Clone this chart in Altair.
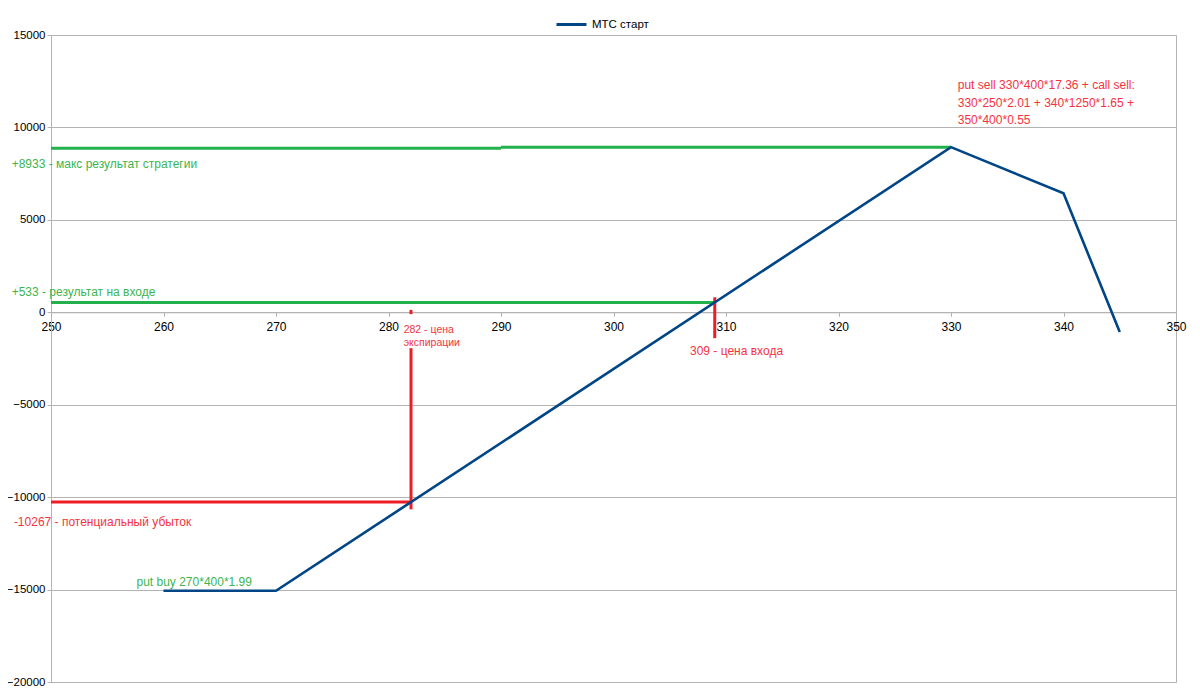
import altair as alt
import pandas as pd

# ---- data ----
series_name = "МТС старт"
strike = [260, 270, 330, 340, 345]
pnl = [-15067, -15067, 8933, 6433, -1067]

# helper lines: x1, x2, y1, y2, colour
rule_x1 = [250, 290, 250, 250, 282, 282, 309]
rule_x2 = [290, 330, 309, 282, 282, 282, 309]
rule_y1 = [8880, 8933, 533, -10267, -10660, 130, 810]
rule_y2 = [8880, 8933, 533, -10267, -1940, -100, -1400]
rule_col = ["#22b14c", "#22b14c", "#22b14c", "#ee1c25", "#ee1c25", "#ee1c25", "#ee1c25"]

# annotations
ann_text = [
    "+8933 - макс результат стратегии",
    "+533 - результат на входе",
    "-10267 - потенциальный убыток",
    "put buy 270*400*1.99",
    "put sell 330*400*17.36 + call sell:",
    "330*250*2.01 + 340*1250*1.65 +",
    "350*400*0.55",
    "309 - цена входа",
]
ann_x = [246.5, 246.5, 246.7, 257.6, 330.6, 330.6, 330.6, 306.8]
ann_y = [8025, 1099, -11347, -14595, 12299, 11326, 10406, -2094]
ann_col = ["#3cb54f", "#3cb54f", "#f5333f", "#3cb54f", "#f5333f", "#f5333f", "#f5333f", "#f5333f"]

small_text = ["282 - цена", "экспирации"]
small_x = [281.35, 281.35]
small_y = [-958, -1661]

x_ticks = list(range(250, 351, 10))
y_ticks = list(range(-20000, 15001, 5000))

W, H = 1125, 647
zero_offset = -(H - H * 15000 / 35000)

xs = alt.Scale(domain=[250, 350], nice=False, zero=False)
ys = alt.Scale(domain=[-20000, 15000], nice=False, zero=False)

main_df = pd.DataFrame({"strike": strike, "pnl": pnl, "series": [series_name] * len(strike)})
rules_df = pd.DataFrame({"x1": rule_x1, "x2": rule_x2, "y1": rule_y1, "y2": rule_y2, "c": rule_col})
ann_df = pd.DataFrame({"x": ann_x, "y": ann_y, "t": ann_text, "c": ann_col})
small_df = pd.DataFrame({"x": small_x, "y": small_y, "t": small_text})

FONT = "Liberation Sans"

line = alt.Chart(main_df).mark_line(strokeWidth=2.6).encode(
    x=alt.X("strike:Q", scale=xs, title=None,
            axis=alt.Axis(values=x_ticks, grid=False, offset=zero_offset, tickSize=4,
                          labelPadding=5, labelFlush=False, domainColor="#b3b3b3",
                          tickColor="#b3b3b3", format="d",
                          labelFont=FONT, labelFontSize=12, labelColor="#000000")),
    y=alt.Y("pnl:Q", scale=ys, title=None,
            axis=alt.Axis(values=y_ticks, grid=True, gridColor="#b3b3b3", tickSize=4,
                          labelPadding=2, domainColor="#b3b3b3", tickColor="#b3b3b3",
                          format="d", labelFlush=False,
                          labelFont=FONT, labelFontSize=11.5, labelColor="#000000")),
    color=alt.Color("series:N", scale=alt.Scale(domain=[series_name], range=["#004586"]),
                    legend=alt.Legend(title=None, orient="none", legendX=504, legendY=-27,
                                      symbolType="stroke", symbolSize=900, symbolStrokeWidth=3,
                                      labelFont=FONT, labelFontSize=11.5, labelColor="#000000")),
)

rules = alt.Chart(rules_df).mark_rule(strokeWidth=3).encode(
    x=alt.X("x1:Q", scale=xs), x2="x2:Q",
    y=alt.Y("y1:Q", scale=ys), y2="y2:Q",
    color=alt.Color("c:N", scale=None),
)

ann = alt.Chart(ann_df).mark_text(align="left", baseline="middle", font=FONT, fontSize=12).encode(
    x=alt.X("x:Q", scale=xs), y=alt.Y("y:Q", scale=ys), text="t:N",
    color=alt.Color("c:N", scale=None),
)

small = alt.Chart(small_df).mark_text(align="left", baseline="middle", font=FONT, fontSize=10.5,
                                      color="#f5333f").encode(
    x=alt.X("x:Q", scale=xs), y=alt.Y("y:Q", scale=ys), text="t:N",
)

chart = alt.layer(rules, line, ann, small).properties(
    width=W, height=H,
    autosize=alt.AutoSizeParams(type="none"),
    padding={"left": 43, "top": 27, "right": 16, "bottom": 5},
    background="white",
).configure_view(stroke="#b3b3b3", strokeWidth=1)

chart.save("out.html", embed_options={"renderer": "svg", "actions": False})
